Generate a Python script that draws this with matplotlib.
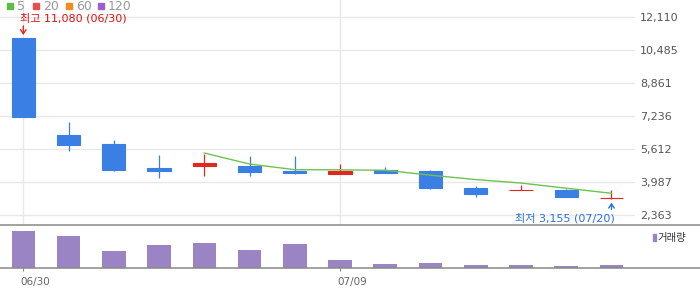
import matplotlib
matplotlib.use("Agg")
import matplotlib.pyplot as plt
import numpy as np
import pandas as pd
from matplotlib.patches import Rectangle
from matplotlib.lines import Line2D
from matplotlib.transforms import ScaledTranslation

# ---- data ----
dates = ["06/30", "07/01", "07/02", "07/03", "07/06", "07/07", "07/08",
         "07/09", "07/10", "07/13", "07/14", "07/15", "07/16", "07/20"]
opens = [11080, 6300, 5860, 4680, 4800, 4780, 4540, 4410, 4590, 4540, 3700, 3590, 3600, 3210]
highs = [11080, 6940, 6060, 5320, 5370, 5270, 5270, 4900, 4730, 4590, 3800, 3835, 3670, 3590]
lows = [7200, 5530, 4540, 4210, 4310, 4310, 4400, 4410, 4450, 3650, 3280, 3590, 3280, 3155]
closes = [7200, 5830, 4590, 4550, 4930, 4500, 4440, 4550, 4450, 3720, 3420, 3590, 3280, 3210]
volumes = [1090, 940, 520, 700, 760, 550, 730, 250, 130, 160, 100, 100, 70, 100]

price_ticks = [2363, 3987, 5612, 7236, 8861, 10485, 12110]
xtick_labels = ["06/30", "07/09"]
legend_labels = ["5", "20", "60", "120"]
legend_colors = ["#5cbf45", "#e84d4d", "#f58a1f", "#9b5fcc"]

max_text = "최고 11,080 (06/30)"
min_text = "최저 3,155 (07/20)"
vol_label = "거래량"

UP = "#e0281e"
DOWN = "#3a7fe3"
VOLC = "#9a84c4"
MAC = "#70c250"
GRID = "#e8e8e8"
SEP = "#888888"

KFONT = ["DejaVu Sans", "Noto Sans CJK KR"]

W, H = 700, 289
fig = plt.figure(figsize=(W / 100, H / 100), dpi=100)

def fx(px):
    return px / W

def fy(py):
    return 1 - py / H

ax_right = 635
price_bottom = 225.3
vol_bottom = 268.3

ax = fig.add_axes([0, fy(price_bottom), fx(ax_right), 1 - fy(price_bottom)])
axv = fig.add_axes([0, fy(vol_bottom), fx(ax_right), fy(price_bottom) - fy(vol_bottom)])

n = len(dates)
x = np.arange(n)
o = np.array(opens); c = np.array(closes); h = np.array(highs); l = np.array(lows)
up = c >= o
colors = np.where(up, UP, DOWN)

# wicks
ax.vlines(x, l, h, colors=colors, linewidth=0.9, zorder=3)
# bodies
body_w = 0.51
ax.bar(x, np.abs(c - o), bottom=np.minimum(o, c), width=body_w, color=colors,
       edgecolor=colors, linewidth=0.8, zorder=4)

# MA5
ma5 = pd.Series(closes).rolling(5).mean()
ax.plot(x, ma5, color=MAC, linewidth=1.0, zorder=5)

ax.set_xlim(-0.515, 13.52)
ax.set_ylim(1872, 12930)
ax.set_yticks(price_ticks)
ax.set_yticklabels([f"{v:,}" for v in price_ticks])
ax.yaxis.tick_right()
ax.tick_params(axis="y", length=0, pad=3.6, labelsize=8, labelcolor="#555555")
ax.set_xticks([dates.index(d) for d in xtick_labels])
ax.tick_params(axis="x", length=0, labelbottom=False)
ax.grid(True, color=GRID, linewidth=1.0, zorder=0)
ax.set_axisbelow(True)
for s in ax.spines.values():
    s.set_visible(False)

# max / min annotations
imax = int(np.argmax(h))
imin = int(np.argmin(l))
ax.annotate("", xy=(imax, h[imax]), xytext=(0, 11.7), textcoords="offset pixels",
            arrowprops=dict(arrowstyle="->,head_length=0.3,head_width=0.2", color=UP,
                            lw=1.0, shrinkA=0, shrinkB=1.9), zorder=6)
ax.annotate(max_text, xy=(imax, h[imax]), xytext=(-3, 19.4), textcoords="offset pixels",
            ha="left", va="center", color="#e01010", fontsize=8, family=KFONT)
ax.annotate("", xy=(imin, l[imin]), xytext=(0, -10.3), textcoords="offset pixels",
            arrowprops=dict(arrowstyle="->,head_length=0.3,head_width=0.2", color="#2a70d8",
                            lw=1.0, shrinkA=0, shrinkB=2.5), zorder=6)
ax.annotate(min_text, xy=(imin, l[imin]), xytext=(3.7, -19.1), textcoords="offset pixels",
            ha="right", va="center", color="#2a70d8", fontsize=8, family=KFONT)

# volume
axv.bar(x, volumes, width=0.52, color=VOLC, zorder=3)
axv.set_xlim(-0.515, 13.52)
axv.set_ylim(0, 1270)
axv.set_yticks([])
axv.set_xticks([dates.index(d) for d in xtick_labels])
axv.set_xticklabels(xtick_labels)
axv.tick_params(axis="x", length=2.5, width=0.8, color=SEP, pad=3.5,
                labelsize=7.5, labelcolor="#666666")
for lab in axv.get_xticklabels():
    lab.set_horizontalalignment("left")
    lab.set_transform(lab.get_transform() + ScaledTranslation(-3 / 100, 0, fig.dpi_scale_trans))
for s in axv.spines.values():
    s.set_visible(False)

# separator lines
for py in (price_bottom, vol_bottom):
    fig.add_artist(Line2D([0, 1], [fy(py), fy(py)], transform=fig.transFigure,
                          color=SEP, linewidth=1.1))

# volume legend
fig.add_artist(Rectangle((fx(652.5), fy(241.3)), fx(3.5), fy(234) - fy(241.3),
                         transform=fig.transFigure, color=VOLC))
fig.text(fx(657), fy(238), vol_label, ha="left", va="center", fontsize=7.5,
         color="#333333", family=KFONT)

# top legend
sq_x = [7, 33, 66, 98]
tx_x = [17, 43, 76, 108]
for lbl, col, sx, tx in zip(legend_labels, legend_colors, sq_x, tx_x):
    fig.add_artist(Rectangle((fx(sx), fy(9)), fx(5.5), fy(3.5) - fy(9),
                             transform=fig.transFigure, color=col))
    fig.text(fx(tx), fy(6.5), lbl, ha="left", va="center", fontsize=9, color="#999999")

fig.savefig("out.png", dpi=100)
